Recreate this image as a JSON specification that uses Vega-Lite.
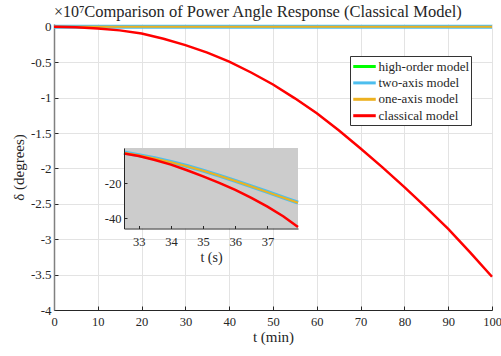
{
  "$schema": "https://vega.github.io/schema/vega-lite/v6.json",
  "width": 438,
  "height": 286,
  "autosize": {"type": "none"},
  "padding": {"left": 54, "top": 24, "right": 9, "bottom": 46},
  "background": "white",
  "config": {
    "view": {"stroke": null},
    "font": "Liberation Serif",
    "axis": {"labelFont": "Liberation Serif", "titleFont": "Liberation Serif", "labelColor": "#262626", "titleColor": "#262626", "titleFontWeight": "normal", "labelFontSize": 12.5, "titleFontSize": 15},
    "legend": {"labelFont": "Liberation Serif"},
    "title": {"font": "Liberation Serif"}
  },
  "title": {"text": "Comparison of Power Angle Response (Classical Model)", "anchor": "middle", "fontSize": 16.5, "fontWeight": "normal", "color": "#262626", "offset": -17},
  "datasets": {
    "main": [
      {"s": "high-order model", "t": 0, "v": 0}, {"s": "high-order model", "t": 50, "v": 0}, {"s": "high-order model", "t": 100, "v": 0},
      {"s": "two-axis model", "t": 0, "v": 0}, {"s": "two-axis model", "t": 50, "v": 0}, {"s": "two-axis model", "t": 100, "v": 0},
      {"s": "one-axis model", "t": 0, "v": 0}, {"s": "one-axis model", "t": 50, "v": 0}, {"s": "one-axis model", "t": 100, "v": 0},
      {"s": "classical model", "t": 0, "v": 0},
      {"s": "classical model", "t": 5, "v": -0.006},
      {"s": "classical model", "t": 10, "v": -0.022},
      {"s": "classical model", "t": 15, "v": -0.05},
      {"s": "classical model", "t": 20, "v": -0.095},
      {"s": "classical model", "t": 25, "v": -0.168},
      {"s": "classical model", "t": 30, "v": -0.258},
      {"s": "classical model", "t": 35, "v": -0.365},
      {"s": "classical model", "t": 40, "v": -0.49},
      {"s": "classical model", "t": 45, "v": -0.645},
      {"s": "classical model", "t": 50, "v": -0.815},
      {"s": "classical model", "t": 55, "v": -1.01},
      {"s": "classical model", "t": 60, "v": -1.222},
      {"s": "classical model", "t": 65, "v": -1.462},
      {"s": "classical model", "t": 70, "v": -1.718},
      {"s": "classical model", "t": 75, "v": -1.985},
      {"s": "classical model", "t": 80, "v": -2.265},
      {"s": "classical model", "t": 85, "v": -2.555},
      {"s": "classical model", "t": 90, "v": -2.855},
      {"s": "classical model", "t": 95, "v": -3.185},
      {"s": "classical model", "t": 100, "v": -3.53}
    ],
    "inset": [
      {"s": "two-axis model", "t": 32.54, "v": -2.6}, {"s": "two-axis model", "t": 33, "v": -4.1}, {"s": "two-axis model", "t": 33.5, "v": -5.9}, {"s": "two-axis model", "t": 34, "v": -8.0}, {"s": "two-axis model", "t": 34.5, "v": -10.3}, {"s": "two-axis model", "t": 35, "v": -12.9}, {"s": "two-axis model", "t": 35.5, "v": -15.8}, {"s": "two-axis model", "t": 36, "v": -18.8}, {"s": "two-axis model", "t": 36.5, "v": -21.9}, {"s": "two-axis model", "t": 37, "v": -25.1}, {"s": "two-axis model", "t": 37.5, "v": -28.3}, {"s": "two-axis model", "t": 37.95, "v": -31.2},
      {"s": "one-axis model", "t": 32.54, "v": -2.7}, {"s": "one-axis model", "t": 33, "v": -4.2}, {"s": "one-axis model", "t": 33.5, "v": -6.0}, {"s": "one-axis model", "t": 34, "v": -8.1}, {"s": "one-axis model", "t": 34.5, "v": -10.4}, {"s": "one-axis model", "t": 35, "v": -13.0}, {"s": "one-axis model", "t": 35.5, "v": -15.9}, {"s": "one-axis model", "t": 36, "v": -18.9}, {"s": "one-axis model", "t": 36.5, "v": -22.0}, {"s": "one-axis model", "t": 37, "v": -25.2}, {"s": "one-axis model", "t": 37.5, "v": -28.4}, {"s": "one-axis model", "t": 37.95, "v": -31.3},
      {"s": "classical model", "t": 32.54, "v": -3.1}, {"s": "classical model", "t": 33, "v": -4.6}, {"s": "classical model", "t": 33.5, "v": -6.9}, {"s": "classical model", "t": 34, "v": -9.5}, {"s": "classical model", "t": 34.5, "v": -12.7}, {"s": "classical model", "t": 35, "v": -16.2}, {"s": "classical model", "t": 35.5, "v": -19.9}, {"s": "classical model", "t": 36, "v": -23.9}, {"s": "classical model", "t": 36.5, "v": -28.5}, {"s": "classical model", "t": 37, "v": -33.5}, {"s": "classical model", "t": 37.5, "v": -39.1}, {"s": "classical model", "t": 37.95, "v": -45.2}
    ],
    "insetBox": [{"x0": 32.54, "x1": 37.95, "y0": -46, "y1": 0}],
    "insetGridX": [{"g": 33}, {"g": 34}, {"g": 35}, {"g": 36}, {"g": 37}],
    "insetGridY": [{"g": -20}, {"g": -40}]
  },
  "layer": [
    {
      "data": {"name": "main"},
      "encoding": {
        "x": {"field": "t", "type": "quantitative", "scale": {"domain": [0, 100], "nice": false},
          "axis": {"title": "t (min)", "values": [0,10,20,30,40,50,60,70,80,90,100], "grid": true, "gridColor": "#e3e3e3", "gridWidth": 1, "domainColor": "#262626", "domainWidth": 1, "tickColor": "#262626", "tickSize": -4, "labelPadding": 9, "labelFlush": false, "titlePadding": 2}},
        "y": {"field": "v", "type": "quantitative", "scale": {"domain": [-4, 0.04], "nice": false, "zero": false},
          "axis": {"title": "δ (degrees)", "values": [-4,-3.5,-3,-2.5,-2,-1.5,-1,-0.5,0], "labelExpr": "toString(datum.value)", "labelFontSize": 13, "grid": true, "gridColor": "#e3e3e3", "gridWidth": 1, "domainColor": "#808080", "domainWidth": 1.5, "tickColor": "#262626", "tickSize": -4, "labelPadding": 7, "titleX": -36, "titleBaseline": "middle"}},
        "color": {"field": "s", "type": "nominal",
          "scale": {"domain": ["high-order model", "two-axis model", "one-axis model", "classical model"], "range": ["#00ff00", "#4dbeee", "#edb120", "#ff0000"]},
          "legend": {"title": null, "orient": "none", "legendX": 296, "legendY": 32, "symbolType": "M-1.5,0H1.5", "symbolStrokeWidth": 3, "symbolSize": 225, "symbolOffset": 4, "labelFontSize": 13, "labelColor": "#262626", "labelOffset": 5, "fillColor": "white", "strokeColor": "#333333", "padding": 1.5, "rowPadding": 0.4, "cornerRadius": 0}}
      },
      "layer": [
        {"transform": [{"filter": "datum.s === 'high-order model'"}], "mark": {"type": "line", "strokeWidth": 2}},
        {"transform": [{"filter": "datum.s === 'two-axis model'"}], "mark": {"type": "line", "strokeWidth": 4}},
        {"transform": [{"filter": "datum.s === 'one-axis model'"}], "mark": {"type": "line", "strokeWidth": 2}},
        {"transform": [{"filter": "datum.s === 'classical model'"}], "mark": {"type": "line", "strokeWidth": 2.5}},
        {"transform": [{"filter": "datum.s === 'classical model' && datum.t === 0"}],
          "mark": {"type": "text", "align": "left", "baseline": "alphabetic", "dx": 0, "dy": -10, "fontSize": 16, "font": "Liberation Serif"},
          "encoding": {"text": {"value": "×10⁷"}, "color": {"value": "#262626"}}}
      ]
    },
    {
      "data": {"name": "inset"},
      "encoding": {
        "x": {"field": "t", "type": "quantitative", "scale": {"domain": [32.54, 37.95], "range": [70, 244], "nice": false, "zero": false},
          "axis": {"orient": "bottom", "offset": -81.5, "title": "t (s)", "titleFontSize": 14, "values": [33,34,35,36,37], "labelExpr": "toString(datum.value)", "grid": false, "domainColor": "#262626", "tickColor": "#262626", "tickSize": -3, "labelPadding": 10, "titlePadding": 2, "zindex": 2}},
        "y": {"field": "v", "type": "quantitative", "scale": {"domain": [-46, 0], "range": [204.5, 124], "nice": false, "zero": false},
          "axis": {"orient": "left", "offset": -70, "title": null, "values": [-20, -40], "labelExpr": "toString(datum.value)", "grid": false, "domainColor": "#262626", "tickColor": "#262626", "tickSize": -3, "labelPadding": 6, "zindex": 2}}
      },
      "layer": [
        {"data": {"name": "insetBox"}, "mark": {"type": "rect", "color": "#cccccc"},
          "encoding": {"x": {"field": "x0", "type": "quantitative"}, "x2": {"field": "x1"}, "y": {"field": "y0", "type": "quantitative"}, "y2": {"field": "y1"}}},
        {"data": {"name": "insetGridX"}, "mark": {"type": "rule", "color": "#eeeeee", "strokeWidth": 1},
          "encoding": {"x": {"field": "g", "type": "quantitative"}, "y": {"datum": -46}, "y2": {"datum": 0}}},
        {"data": {"name": "insetGridY"}, "mark": {"type": "rule", "color": "#eeeeee", "strokeWidth": 1},
          "encoding": {"y": {"field": "g", "type": "quantitative"}, "x": {"datum": 32.54}, "x2": {"datum": 37.95}}},
        {"transform": [{"filter": "datum.s === 'two-axis model'"}], "mark": {"type": "line", "strokeWidth": 4, "color": "#4dbeee"}},
        {"transform": [{"filter": "datum.s === 'one-axis model'"}], "mark": {"type": "line", "strokeWidth": 2, "color": "#edb120"}},
        {"transform": [{"filter": "datum.s === 'classical model'"}], "mark": {"type": "line", "strokeWidth": 2.5, "color": "#ff0000"}}
      ]
    }
  ],
  "resolve": {"scale": {"x": "independent", "y": "independent"}}
}
